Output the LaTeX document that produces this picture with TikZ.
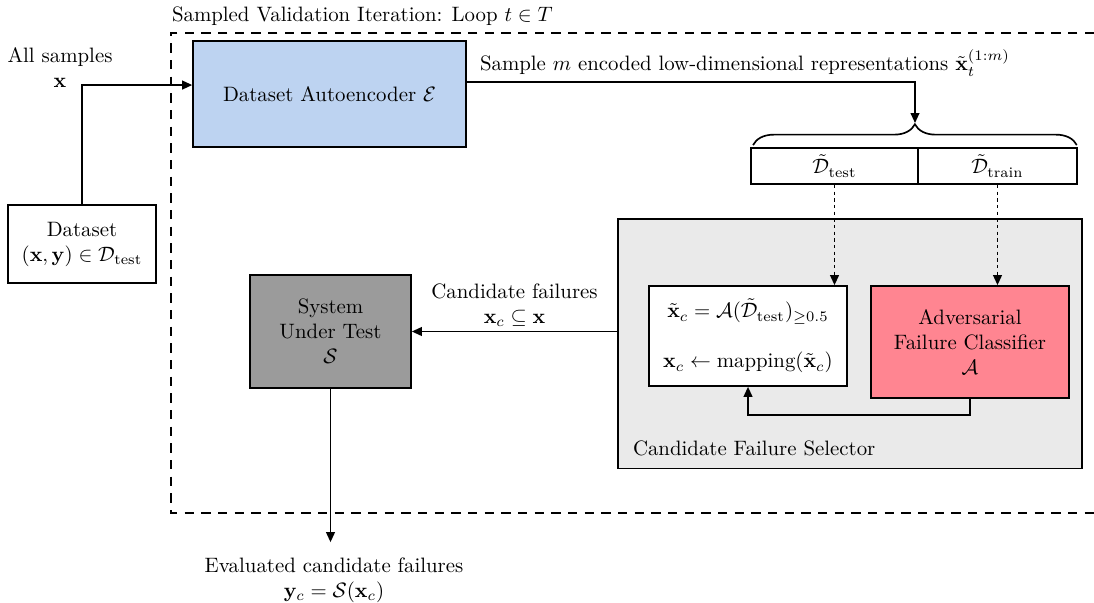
\documentclass[tikz,border=0pt]{standalone}
\usepackage{amsmath,amssymb}
\usetikzlibrary{arrows.meta}
\usetikzlibrary{decorations.pathreplacing}
\definecolor{encblue}{RGB}{189,211,241}
\definecolor{advred}{RGB}{255,133,145}
\definecolor{sutgray}{RGB}{155,155,155}
\definecolor{selgray}{RGB}{234,234,234}

\begin{document}
\begin{tikzpicture}[>={Triangle[length=4.8pt,width=4.2pt]},x=0.48pt,y=-0.48pt,line width=0.8pt,
  box/.style={draw,align=center,inner sep=0pt},
  txt/.style={align=center,inner sep=2pt}]
\useasboundingbox (0,0) rectangle (1094,602);
% loop frame
\draw[dash pattern=on 4.5pt off 3.5pt] (1094,33)--(171,33)--(171,513)--(1094,513);
\node[txt,anchor=west] (looplbl) at (167,16) {Sampled Validation Iteration: Loop $t \in T$};
% inputs and encoder
\node[txt] (all) at (60,68) {All samples\\$\mathbf{x}$};
\node[box,fill=white,minimum width=71pt,minimum height=37.2pt] (data) at (82,244) {Dataset\\$(\mathbf{x},\mathbf{y}) \in \mathcal{D}_{\text{test}}$};
\node[box,fill=encblue,minimum width=131pt,minimum height=50.9pt] (enc) at (329.5,94) {Dataset Autoencoder $\mathcal{E}$};
\draw[->] (data.north) |- ([yshift=4.3pt]enc.west);
% sampled split
\node[box,minimum width=80.2pt,minimum height=17.3pt] (dtest) at (834.5,166) {$\tilde{\mathcal{D}}_{\text{test}}$};
\node[box,minimum width=76.3pt,minimum height=17.3pt] (dtrain) at (997.5,166) {$\tilde{\mathcal{D}}_{\text{train}}$};
\coordinate (bl) at ([xshift=1.4pt,yshift=1pt]dtest.north west);
\coordinate (br) at ([xshift=-0.5pt,yshift=1pt]dtrain.north east);
\draw[decorate,decoration={brace,amplitude=10pt}] (bl)--(br);
\coordinate (tip) at (915,123);
\draw[->] ([yshift=5.8pt]enc.east) -| (tip);
\node[txt,anchor=south west] (samplbl) at (475,81) {Sample $m$ encoded low-dimensional representations $\tilde{\mathbf{x}}_t^{(1:m)}$};
% candidate failure selector
\node[box,fill=selgray,minimum width=222.7pt,minimum height=119.8pt] (sel) at (850,343.75) {};
\node[txt,anchor=west] (sellbl) at (628,448) {Candidate Failure Selector};
\node[box,fill=white,minimum width=95pt,minimum height=48pt] (map) at (748,336) {$\tilde{\mathbf{x}}_c = \mathcal{A}(\tilde{\mathcal{D}}_{\text{test}})_{\geq 0.5}$\\[12pt]$\mathbf{x}_c \leftarrow \text{mapping}(\tilde{\mathbf{x}}_c)$};
\node[box,fill=advred,minimum width=95.2pt,minimum height=53.8pt] (adv) at (970,342) {Adversarial\\Failure Classifier\\$\mathcal{A}$};
\draw[->,dash pattern=on 1.6pt off 1.6pt] (dtest.south)--(dtest.south |- map.north);
\draw[->,dash pattern=on 1.6pt off 1.6pt] (dtrain.south)--(dtrain.south |- adv.north);
\draw[->] (adv.south) -- ++(0,16) -| (map.south);
% system under test
\node[box,fill=sutgray,minimum width=77.3pt,minimum height=54.2pt] (sut) at (330.5,331.5) {System\\Under Test\\$\mathcal{S}$};
\draw[->] (sel.west |- sut.east) -- node[txt,above] (candlbl) {Candidate failures\\$\mathbf{x}_c \subseteq \mathbf{x}$} (sut.east);
\node[txt,inner ysep=7pt] (eval) at (334,580) {Evaluated candidate failures\\$\mathbf{y}_c = \mathcal{S}(\mathbf{x}_c)$};
\draw[->] (sut.south) -- (sut.south |- eval.north);
\end{tikzpicture}
\end{document}
